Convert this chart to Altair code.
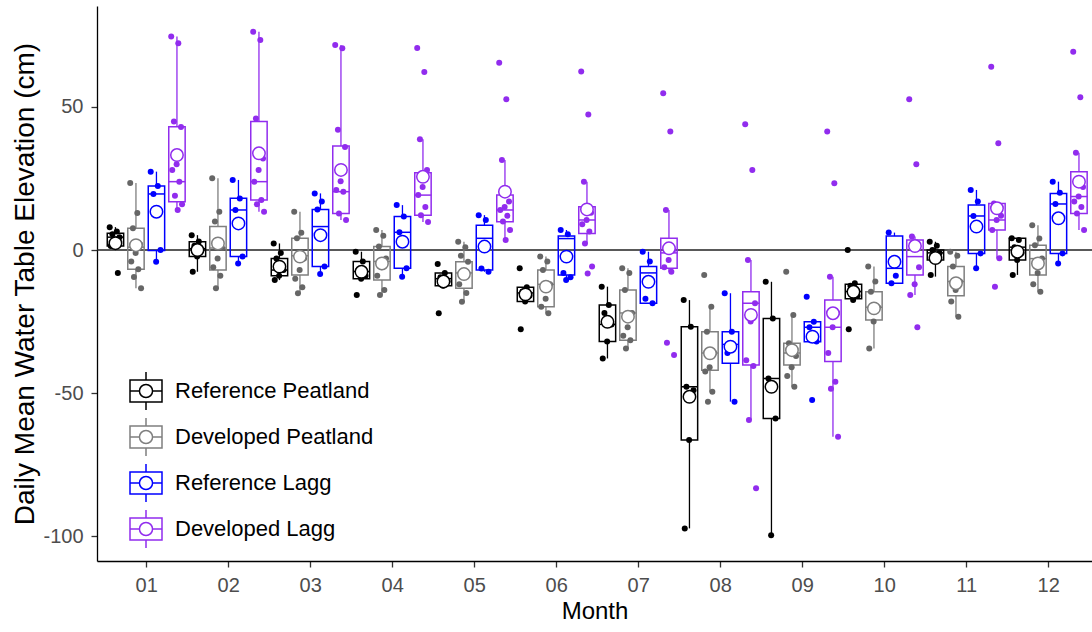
import altair as alt
import pandas as pd

FONT = "Liberation Sans"

months = [1, 2, 3, 4, 5, 6, 7, 8, 9, 10, 11, 12]
groups = ["Reference Peatland", "Developed Peatland", "Reference Lagg", "Developed Lagg"]
colors = ["#000000", "#7F7F7F", "#0000FF", "#912CEE"]
point_colors = ["#000000", "#666666", "#0000FF", "#912CEE"]

# ---- Reference Peatland ----
rp_q1 = [1.4, -2.3, -9.0, -10.0, -12.5, -18.0, -32.0, -66.4, -58.9, -17.0, -3.5, -3.5]
rp_med = [4.5, 0.5, -7.0, -7.5, -10.0, -15.0, -26.0, -47.8, -44.9, -14.5, -1.0, 1.0]
rp_q3 = [5.9, 2.9, -3.0, -4.0, -8.0, -13.0, -19.2, -26.8, -23.9, -12.0, 0.0, 4.1]
rp_lo = [1.4, -7.6, -10.5, -10.0, -12.5, -18.0, -37.9, -97.3, -99.7, -17.5, -9.3, -8.7]
rp_hi = [8.0, 5.2, 2.3, -0.6, -8.0, -13.0, -12.8, -17.5, -11.1, -11.6, 2.9, 4.1]
rp_mean = [2.4, 0.0, -5.8, -7.6, -11.0, -15.5, -25.1, -51.3, -47.8, -14.6, -2.8, -0.6]
rp_pts = [
    [8.0, 6.5, 5.5, 4.5, 3.0, 1.4, -8.0],
    [5.2, 3.0, 1.5, 0.0, -2.3, -7.6],
    [2.3, -1.0, -3.0, -7.0, -9.0, -10.5],
    [-0.6, -4.0, -7.0, -9.0, -10.0, -15.7],
    [-4.9, -8.0, -9.5, -11.0, -12.5, -22.1],
    [-6.4, -13.0, -14.5, -16.0, -18.0, -27.7],
    [-12.8, -19.2, -22.0, -26.0, -32.0, -37.9],
    [-17.5, -26.8, -47.8, -49.0, -66.4, -97.3],
    [-11.1, -23.9, -44.9, -58.9, -99.7],
    [0.0, -11.6, -12.5, -16.0, -17.5, -27.7],
    [2.9, 1.5, 0.0, -1.0, -3.5, -8.7],
    [4.1, 3.5, 1.0, -1.0, -3.5, -8.7],
]

# ---- Developed Peatland ----
dp_q1 = [-6.7, -7.0, -8.7, -10.5, -13.4, -19.8, -31.5, -42.0, -40.2, -24.5, -16.0, -8.7]
dp_med = [1.0, 0.7, -2.0, -4.0, -8.0, -12.0, -22.0, -36.0, -36.0, -20.0, -11.0, -3.0]
dp_q3 = [7.6, 8.2, 4.1, 1.2, -4.1, -7.0, -14.0, -28.6, -32.6, -14.6, -5.8, 1.7]
dp_lo = [-13.4, -13.4, -15.1, -15.7, -18.1, -22.1, -34.4, -49.5, -47.8, -34.4, -23.3, -14.6]
dp_hi = [23.4, 25.1, 13.4, 7.0, 2.9, -2.3, -6.4, -19.8, -22.7, -5.8, -0.6, 8.7]
dp_mean = [1.7, 2.3, -2.3, -4.7, -8.4, -12.8, -23.3, -36.1, -35.0, -20.4, -11.6, -4.7]
dp_pts = [
    [23.4, 12.9, 7.6, 2.0, -1.0, -4.0, -6.7, -9.4, -13.4],
    [25.1, 13.4, 10.0, 0.7, -3.0, -6.0, -9.0, -13.4],
    [13.4, 6.0, 4.1, -3.0, -7.0, -10.0, -13.0, -15.1],
    [7.0, 5.0, 1.2, -3.0, -6.0, -9.0, -14.0, -15.7],
    [2.9, 1.0, -2.0, -4.1, -8.0, -12.0, -15.0, -18.1],
    [-2.3, -4.0, -7.0, -12.0, -17.0, -19.8, -22.1],
    [-6.4, -8.0, -14.0, -22.0, -27.0, -30.0, -31.5, -34.4],
    [-8.7, -19.8, -28.6, -36.0, -41.0, -42.5, -49.5, -53.0],
    [-7.6, -22.7, -32.6, -37.0, -41.0, -44.0, -47.8],
    [-5.8, -11.0, -14.6, -20.0, -25.0, -34.4],
    [-0.6, -2.0, -5.8, -11.0, -14.0, -18.0, -23.3],
    [8.7, 4.0, 1.7, -3.0, -8.0, -12.0, -14.6],
]

# ---- Reference Lagg ----
rl_q1 = [-0.2, -2.3, -5.8, -6.4, -7.0, -8.7, -18.6, -39.6, -32.1, -11.6, -1.2, -1.2]
rl_med = [19.6, 14.0, 8.2, 6.2, 4.1, 4.0, -8.0, -33.0, -27.0, -6.4, 11.9, 16.1]
rl_q3 = [22.4, 18.1, 14.2, 11.7, 8.7, 4.9, -5.8, -28.6, -25.1, 4.9, 15.7, 19.8]
rl_lo = [-4.1, -4.7, -8.4, -9.3, -7.6, -10.5, -18.6, -53.0, -32.1, -11.6, -6.4, -4.7]
rl_hi = [27.4, 24.5, 19.8, 15.7, 12.2, 7.0, -0.6, -15.1, -25.1, 6.1, 21.0, 23.9]
rl_mean = [13.4, 9.3, 5.2, 2.9, 1.2, -2.3, -11.1, -33.8, -30.3, -4.1, 8.2, 11.1]
rl_pts = [
    [27.4, 22.4, 19.6, 0.0, -4.1],
    [24.5, 18.0, 14.0, -2.3, -4.7],
    [19.8, 17.0, 14.2, -5.8, -8.4],
    [15.7, 11.7, 6.2, -6.4, -9.3],
    [12.2, 10.5, -6.5, -7.6],
    [7.0, 5.5, -8.0, -9.5, -10.5],
    [-0.6, -4.0, -17.0, -18.6],
    [-15.1, -28.6, -36.0, -53.0],
    [-16.3, -25.1, -27.0, -32.0, -52.4],
    [6.1, -9.0, -11.6],
    [21.0, 17.0, 11.9, -1.2, -6.4],
    [23.9, 20.0, 16.1, -1.2, -4.7],
]

# ---- Developed Lagg ----
dl_q1 = [16.9, 17.5, 12.8, 12.2, 9.9, 5.8, -6.4, -40.2, -39.0, -8.7, 7.0, 12.8]
dl_med = [23.9, 23.9, 20.4, 19.2, 14.0, 10.5, -1.0, -18.6, -27.0, -2.3, 10.5, 18.7]
dl_q3 = [43.1, 44.9, 36.4, 27.0, 19.2, 15.1, 4.1, -14.6, -17.5, 3.5, 16.3, 27.4]
dl_lo = [14.0, 13.4, 10.5, 9.8, 3.5, 2.3, -7.6, -59.4, -65.3, -15.7, -2.9, 7.0]
dl_hi = [74.6, 76.3, 71.7, 38.7, 31.5, 23.9, 14.0, -3.5, -9.3, 4.7, 16.3, 34.0]
dl_mean = [33.2, 33.8, 28.0, 25.6, 20.4, 14.2, 0.6, -22.7, -22.1, 1.4, 14.6, 23.9]
dl_pts = [
    [74.6, 72.3, 44.9, 43.0, 30.0, 28.0, 23.9, 19.0, 16.0, 14.0],
    [76.3, 73.4, 46.0, 32.0, 28.0, 23.9, 17.5, 16.0, 13.4],
    [71.7, 70.5, 42.0, 36.0, 24.0, 21.0, 20.4, 12.8, 10.5],
    [70.6, 62.2, 38.7, 28.0, 22.0, 19.2, 15.0, 12.2, 9.8],
    [65.5, 52.7, 31.5, 17.0, 15.0, 14.0, 12.0, 10.0, 7.0, 3.5],
    [62.4, 47.4, 23.9, 13.0, 10.5, 9.0, 6.5, 2.3, -5.8, -8.2],
    [54.8, 41.4, 14.0, 0.0, -3.5, -6.0, -7.6, -32.4, -36.7],
    [44.0, 28.0, -3.5, -18.6, -25.0, -38.5, -40.5, -59.4, -83.3],
    [41.4, 23.3, -9.3, -22.0, -27.0, -36.0, -46.0, -48.5, -65.3],
    [52.7, 30.0, 4.7, -6.0, -12.0, -15.7, -27.0],
    [64.1, 37.3, 16.3, 12.0, 10.5, 7.0, -2.9, -12.8],
    [69.3, 53.4, 34.0, 22.0, 18.7, 17.0, 15.0, 12.8, 7.0],
]

stats = {
    groups[0]: (rp_lo, rp_q1, rp_med, rp_q3, rp_hi, rp_mean, rp_pts),
    groups[1]: (dp_lo, dp_q1, dp_med, dp_q3, dp_hi, dp_mean, dp_pts),
    groups[2]: (rl_lo, rl_q1, rl_med, rl_q3, rl_hi, rl_mean, rl_pts),
    groups[3]: (dl_lo, dl_q1, dl_med, dl_q3, dl_hi, dl_mean, dl_pts),
}

box_rows, pt_rows = [], []
for gi, g in enumerate(groups):
    lo, q1, med, q3, hi, mean, pts = stats[g]
    for mi, m in enumerate(months):
        box_rows.append({"month": m, "group": g, "gi": gi, "lo": lo[mi], "q1": q1[mi],
                         "med": med[mi], "q3": q3[mi], "hi": hi[mi], "mean": mean[mi]})
        for k, v in enumerate(pts[mi]):
            pt_rows.append({"month": m, "group": g, "gi": gi, "k": k, "value": v})
box_df = pd.DataFrame(box_rows)
pt_df = pd.DataFrame(pt_rows)

xscale = alt.Scale(domain=[0.4, 12.534], nice=False, zero=False)
yscale = alt.Scale(domain=[-108.7, 85.3], nice=False, zero=False)

xaxis = alt.Axis(values=months, format="02d", title="Month", grid=False)
yaxis = alt.Axis(values=[-100, -50, 0, 50], labelExpr="'' + datum.value",
                 title="Daily Mean Water Table Elevation (cm)", grid=False)

# boxplot-like legend glyph (box, whiskers, median split around an open circle)
R = 0.41
K = 0.2265
SYMBOL = (
    "M-1,-0.68L1,-0.68L1,0.68L-1,0.68Z "
    "M0,-1.19L0,-0.68 M0,0.68L0,1.19 "
    "M-1,0L-0.41,0 M0.41,0L1,0 "
    f"M{R},0C{R},{K} {K},{R} 0,{R}C-{K},{R} -{R},{K} -{R},0"
    f"C-{R},-{K} -{K},-{R} 0,-{R}C{K},-{R} {R},-{K} {R},0Z"
)

legend = alt.Legend(title=None, orient="none", legendX=32, legendY=368, direction="vertical",
                    symbolType=SYMBOL, symbolSize=1024, symbolStrokeWidth=1.5,
                    symbolFillColor="transparent", labelLimit=0,
                    labelFont=FONT, labelFontSize=22, labelColor="black",
                    rowPadding=0, labelOffset=12, padding=0)

POS = "datum.month + (datum.gi - 1.5) * 0.25"
base = alt.Chart(box_df).transform_calculate(
    pos=POS, xl=POS + " - 0.1", xr=POS + " + 0.1"
)


def X(f):
    return alt.X(f, scale=xscale, axis=xaxis)


def Y(f):
    return alt.Y(f, scale=yscale, axis=yaxis)


def col():
    # same mapping as the legend scale, listed in reverse so the legends stay separate
    return alt.Color("group:N", scale=alt.Scale(domain=groups[::-1], range=colors[::-1]), legend=None)


zero = alt.Chart(pd.DataFrame({"zero": [0]})).mark_rule(color="#222222", strokeWidth=1.4).encode(
    y=Y("zero:Q")
)
whisk_lo = base.mark_rule(strokeWidth=1.3).encode(
    x=X("pos:Q"), y=Y("lo:Q"), y2="q1:Q", color=col()
)
whisk_hi = base.mark_rule(strokeWidth=1.3).encode(
    x=X("pos:Q"), y=Y("q3:Q"), y2="hi:Q", color=col()
)
boxes = base.mark_rect(fill="transparent", strokeWidth=1.5).encode(
    x=X("xl:Q"), x2="xr:Q", y=Y("q1:Q"), y2="q3:Q",
    stroke=alt.Stroke("group:N", scale=alt.Scale(domain=groups, range=colors), legend=legend)
)
medians = base.mark_rule(strokeWidth=1.5).encode(
    x=X("xl:Q"), x2="xr:Q", y=Y("med:Q"), color=col()
)
points = alt.Chart(pt_df).transform_calculate(
    px=POS + " + ((datum.k * 0.618034) % 1 - 0.5) * 0.14"
).mark_circle(size=36, opacity=1).encode(
    x=X("px:Q"), y=Y("value:Q"),
    fill=alt.Fill("group:N", scale=alt.Scale(domain=groups[::-1], range=point_colors[::-1]), legend=None)
)
means = base.mark_point(shape="circle", filled=False, fill="white", fillOpacity=1,
                        size=155, strokeWidth=1.5, opacity=1).encode(
    x=X("pos:Q"), y=Y("mean:Q"), color=col()
)

chart = alt.layer(zero, whisk_lo, whisk_hi, boxes, medians, points, means).properties(
    width=995, height=555,
    padding={"left": 97, "top": 6, "right": 0, "bottom": 71},
    autosize=alt.AutoSizeParams(type="none"),
).configure_view(stroke=None).configure_axis(
    domainColor="black", domainWidth=1.3, tickColor="#333333", tickWidth=1.3, tickSize=6,
    labelColor="#4D4D4D", labelFont=FONT, labelFontSize=20, labelPadding=8,
    titleFont=FONT, titleColor="black", titleFontWeight="normal",
).configure_axisX(titleFontSize=24, titlePadding=4).configure_axisY(titleFontSize=28, titlePadding=3)

chart.save("out.html", embed_options={"renderer": "svg", "actions": False})
